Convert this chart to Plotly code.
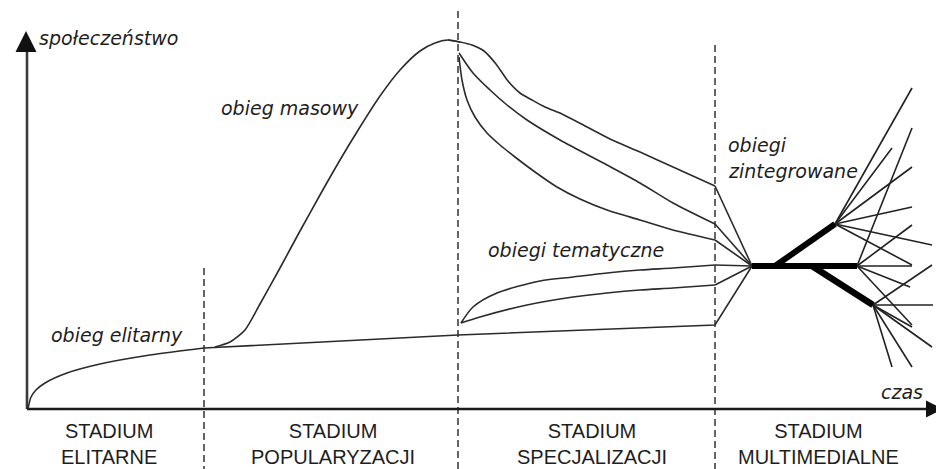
import plotly.graph_objects as go

# Coordinates: t = time (horizontal units), v = level of "społeczeństwo" (units above the time axis)
T_MIN, T_MAX = 8, 944
V_MIN, V_MAX = -60, 401

stage_bounds = [204, 458, 715]
stage_bound_top = [141, 409, 364]
stage_labels = ["STADIUM<br>ELITARNE", "STADIUM<br>POPULARYZACJI",
                "STADIUM<br>SPECJALIZACJI", "STADIUM<br>MULTIMEDIALNE"]
stage_label_t = [109, 333, 592, 818]

# obieg elitarny
elite_t = [28, 31, 36, 45, 67, 100, 150, 204]
elite_v = [0, 12, 19, 26, 36, 45, 54, 61]
elite_tail_t = [204, 458, 715, 752]
elite_tail_v = [61, 74, 84, 143]

# obieg masowy: rise to the peak
mass_rise_t = [215, 230, 245, 260, 280, 300, 320, 340, 360, 380, 400, 420, 435, 448, 460]
mass_rise_v = [62, 67, 79, 105, 141, 178, 214, 249, 282, 313, 339, 358, 366, 369, 367]
# obieg masowy: fall after the peak
mass_fall_t = [448, 460, 472, 484, 496, 508, 520, 532, 545, 560, 585, 610, 640, 673, 715]
mass_fall_v = [369, 367, 364, 358, 345, 328, 316, 309, 302, 296, 283, 270, 257, 242, 223]
mass_b_t = [459, 473, 490, 507, 527, 560, 607, 640, 673, 715]
mass_b_v = [356, 336, 319, 304, 289, 269, 244, 226, 206, 185]
mass_c_t = [459, 462, 467, 475, 487, 500, 515, 535, 557, 580, 607, 640, 673, 715]
mass_c_v = [352, 329, 309, 292, 276, 264, 252, 237, 222, 210, 199, 189, 179, 169]

# obiegi tematyczne
tem_up_t = [461, 473, 497, 540, 573, 607, 640, 673, 715]
tem_up_v = [86, 102, 116, 128, 132, 136, 139, 141, 144]
tem_low_t = [461, 480, 527, 573, 607, 640, 673, 715]
tem_low_v = [86, 92, 104, 112, 116, 119, 121, 124]

# convergence node (obiegi zintegrowane)
node_t, node_v = 752, 143
tails_end_t = [715, 715, 715, 715, 715]
tails_end_v = [223, 185, 169, 144, 124]

trunk_t = [752, 857]
trunk_v = [143, 143]
branch_up_t = [775, 835]
branch_up_v = [143, 185]
branch_down_t = [812, 873]
branch_down_v = [143, 104]

fan_a_t = [912, 892, 912, 912, 932, 912]
fan_a_v = [321, 261, 242, 202, 164, 144]
fan_b_t = [912, 912, 912, 910, 912]
fan_b_v = [281, 184, 143, 122, 84]
fan_c_t = [932, 933, 912, 932, 892, 912]
fan_c_v = [144, 104, 82, 62, 42, 42]

CURVE = "#2b2b2b"
AXIS = "#1a1a1a"

fig = go.Figure()


def add_line(t, v, width=1.6, shape="linear", color=CURVE, dash=None, smoothing=0.8):
    fig.add_trace(go.Scatter(x=t, y=v, mode="lines",
                             line=dict(color=color, width=width, shape=shape,
                                       smoothing=smoothing if shape == "spline" else None,
                                       dash=dash),
                             hoverinfo="skip", cliponaxis=False))


# stage boundaries (dashed)
for b, top in zip(stage_bounds, stage_bound_top):
    add_line([b, b], [top, V_MIN], width=1.5, dash="7px,4px", color="#333333")

# axes
add_line([27, 27], [0, 358], width=2.6, color="#3a3a3a")
add_line([27, 928], [0, 0], width=2.6, color=AXIS)
fig.add_trace(go.Scatter(x=[26], y=[378], mode="markers",
                         marker=dict(symbol="arrow-up", size=21, color="#111"),
                         hoverinfo="skip", cliponaxis=False))
fig.add_trace(go.Scatter(x=[943], y=[0], mode="markers",
                         marker=dict(symbol="arrow-right", size=17, color="#111"),
                         hoverinfo="skip", cliponaxis=False))

# curves
add_line(elite_t, elite_v, shape="spline")
add_line(elite_tail_t, elite_tail_v)
add_line(mass_rise_t, mass_rise_v, shape="spline", smoothing=0.7)
add_line(mass_fall_t, mass_fall_v, shape="spline", smoothing=0.7)
add_line(mass_b_t, mass_b_v, shape="spline")
add_line(mass_c_t, mass_c_v, shape="spline", smoothing=0.7)
add_line(tem_up_t, tem_up_v, shape="spline")
add_line(tem_low_t, tem_low_v, shape="spline")

# tails to node
tx, ty = [], []
for et, ev in zip(tails_end_t, tails_end_v):
    tx += [et, node_t, None]
    ty += [ev, node_v, None]
add_line(tx, ty)

# fan lines
for (nt, nv), ft, fv in [((branch_up_t[1], branch_up_v[1]), fan_a_t, fan_a_v),
                         ((trunk_t[1], trunk_v[1]), fan_b_t, fan_b_v),
                         ((branch_down_t[1], branch_down_v[1]), fan_c_t, fan_c_v)]:
    fx, fy = [], []
    for et, ev in zip(ft, fv):
        fx += [nt, et, None]
        fy += [nv, ev, None]
    add_line(fx, fy, width=1.6, color="#222")

# thick integrated flows
add_line(trunk_t, trunk_v, width=6, color="#000")
add_line(branch_up_t, branch_up_v, width=6, color="#000")
add_line(branch_down_t, branch_down_v, width=6.5, color="#000")

IT = dict(family="DejaVu Sans", size=19, color="#1e1e1e", style="italic")
labels = [
    ("społeczeństwo", 37, 371),
    ("obieg masowy", 219, 301),
    ("obieg elitarny", 49, 74),
    ("obiegi tematyczne", 486, 159),
    ("obiegi", 726, 264),
    ("zintegrowane", 726, 238),
    ("czas", 879, 17),
]
for txt, t, v in labels:
    fig.add_annotation(x=t, y=v, text=txt, showarrow=False, xanchor="left",
                       yanchor="middle", font=IT)

for txt, t in zip(stage_labels, stage_label_t):
    fig.add_annotation(x=t, y=-35, text=txt, showarrow=False, xanchor="center",
                       yanchor="middle", align="center",
                       font=dict(family="Liberation Sans, Arial", size=20, color="#1e1e1e"))

# The page body has an 8px margin, so the figure is 8px smaller than the window
fig.update_layout(
    width=936, height=461,
    margin=dict(l=0, r=0, t=0, b=0),
    paper_bgcolor="white", plot_bgcolor="white",
    showlegend=False,
    xaxis=dict(range=[T_MIN, T_MAX], visible=False, fixedrange=True),
    yaxis=dict(range=[V_MIN, V_MAX], visible=False, fixedrange=True),
)

fig.write_html("out.html")
